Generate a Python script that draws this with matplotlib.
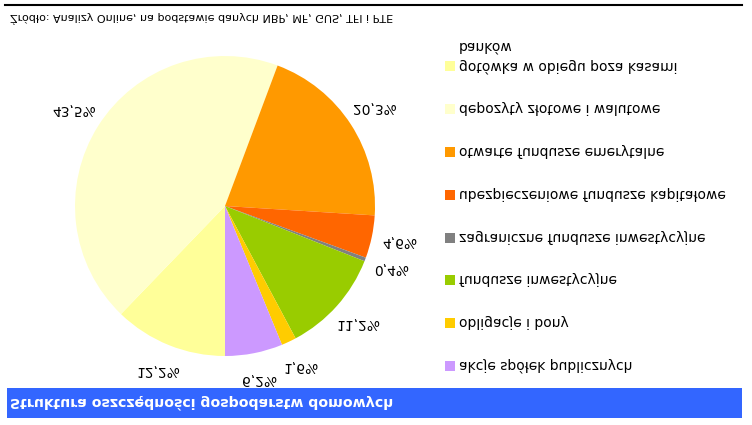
import matplotlib
matplotlib.use("Agg")
import matplotlib.pyplot as plt
import numpy as np
from matplotlib.patches import Rectangle
from matplotlib.lines import Line2D

# Data (pie goes counter-clockwise from 12 o'clock)
categories = [
    "gotówka w obiegu poza kasami\nbanków",
    "depozyty złotowe i walutowe",
    "otwarte fundusze emerytalne",
    "ubezpieczeniowe fundusze kapitałowe",
    "zagraniczne fundusze inwestycyjne",
    "fundusze inwestycyjne",
    "obligacje i bony",
    "akcje spółek publicznych",
]
shares = [12.2, 43.5, 20.3, 4.6, 0.4, 11.2, 1.6, 6.2]
colors = ["#FFFF99", "#FFFFCC", "#FF9900", "#FF6600", "#808080", "#99CC00", "#FFCC00", "#CC99FF"]

title = "Struktura oszczędności gospodarstw domowych"
source = "Źródło: Analizy Online, na podstawie danych NBP, MF, GUS, TFI i PTE"

W, H = 752, 425
fig = plt.figure(figsize=(W / 100, H / 100), dpi=100)
fig.patch.set_facecolor("white")


def fx(x):
    return x / W


def fy(y):
    # y measured from the top in pixels
    return 1 - y / H


# Title bar
fig.patches.append(Rectangle((fx(7), fy(37)), fx(735), 30 / H, transform=fig.transFigure,
                             facecolor="#3366FF", edgecolor="none"))
fig.text(fx(10), fy(22), title, color="white", fontsize=10.2, fontweight="bold",
         ha="left", va="center")

# Pie
R = 150
cx, cy = 225, 219
lim = 1.3
size = 2 * lim * R
ax = fig.add_axes([fx(cx - size / 2), fy(cy + size / 2), size / W, size / H])
labels = [f"{v:.1f}%".replace(".", ",") for v in shares]
wedges, texts = ax.pie(shares, colors=colors, labels=labels, startangle=90,
                       counterclock=True, labeldistance=1.19,
                       wedgeprops=dict(linewidth=0),
                       textprops=dict(fontsize=10, color="black"))
for t in texts:
    t.set_ha("center")
    t.set_va("center")
ax.set_xlim(-lim, lim)
ax.set_ylim(-lim, lim)
ax.set_aspect("equal")
ax.axis("off")

# Legend, drawn by hand (reverse order, top to bottom)
step = 42.8
y0 = 59
for i, (lab, col) in enumerate(zip(categories[::-1], colors[::-1])):
    y = y0 + i * step
    fig.patches.append(Rectangle((fx(445), fy(y + 5)), 10 / W, 10 / H,
                                 transform=fig.transFigure, facecolor=col, edgecolor="none"))
    if "\n" in lab:
        # two-line entry: first line sits next to the marker
        fig.text(fx(459), fy(y - 8), lab, fontsize=10, ha="left", va="top", linespacing=1.5)
    else:
        fig.text(fx(459), fy(y), lab, fontsize=10, ha="left", va="center")

# Source line
fig.text(fx(10), fy(406), source, fontsize=8, ha="left", va="center")
fig.lines.append(Line2D([fx(5), fx(742)], [fy(420), fy(420)], transform=fig.transFigure,
                        color="black", linewidth=1.5))

# The reference picture is mirrored top-to-bottom, so flip the rendered image
fig.canvas.draw()
img = np.asarray(fig.canvas.buffer_rgba())
plt.imsave("out.png", img[::-1])
